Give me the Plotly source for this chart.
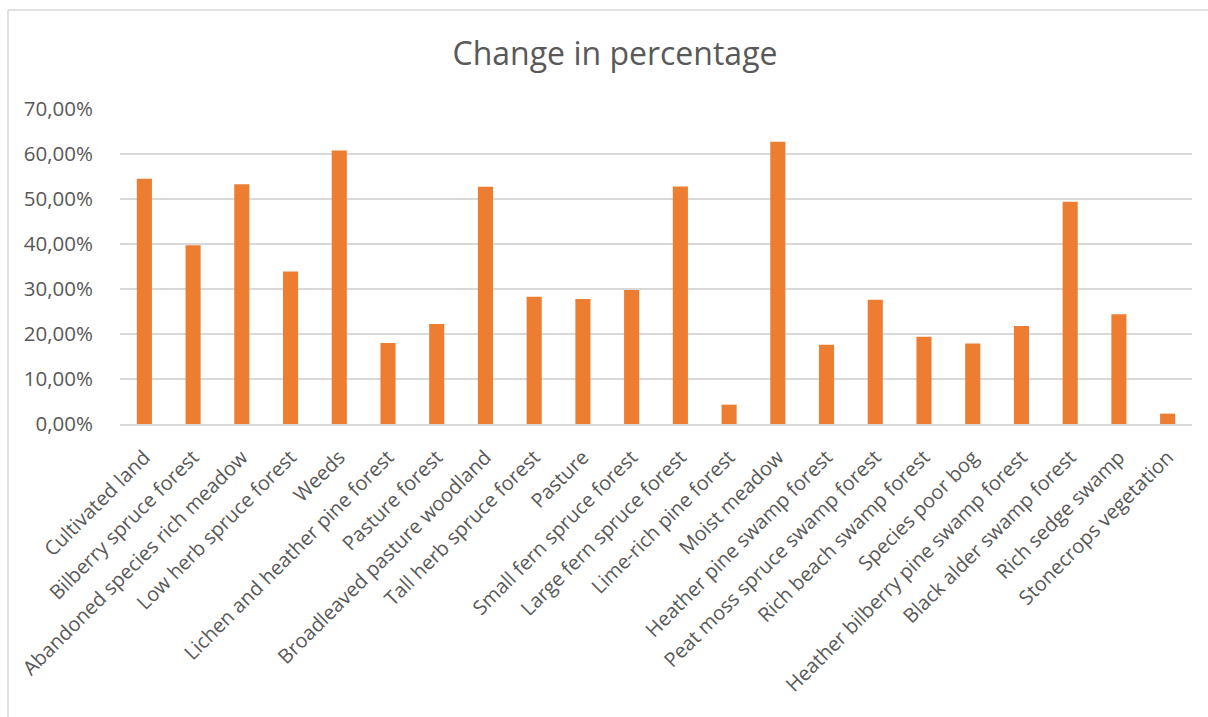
import plotly.graph_objects as go

categories = [
    "Cultivated land", "Bilberry spruce forest", "Abandoned species rich meadow",
    "Low herb spruce forest", "Weeds", "Lichen and heather pine forest",
    "Pasture forest", "Broadleaved pasture woodland", "Tall herb spruce forest",
    "Pasture", "Small fern spruce forest", "Large fern spruce forest",
    "Lime-rich pine forest", "Moist meadow", "Heather pine swamp forest",
    "Peat moss spruce swamp forest", "Rich beach swamp forest", "Species poor bog",
    "Heather bilberry pine swamp forest", "Black alder swamp forest",
    "Rich sedge swamp", "Stonecrops vegetation",
]
change_pct = [
    54.5, 39.7, 53.3, 33.9, 60.8, 18.0, 22.2, 52.7, 28.3, 27.8, 29.8,
    52.8, 4.3, 62.7, 17.6, 27.6, 19.4, 17.9, 21.8, 49.4, 24.4, 2.3,
]
values = [v / 100 for v in change_pct]

FONT = "Open Sans"
GREY = "#595959"

fig = go.Figure(go.Bar(
    x=categories, y=values,
    marker=dict(color="#ED7D31", line=dict(width=0)),
    hovertemplate="%{x}: %{y:.2%}<extra></extra>",
))

W, H = 1208, 717
L, R, T, B = 120, 16, 109, 293
pw, ph = W - L - R, H - T - B

def px_x(p):
    return (p - L) / pw

def px_y(p):
    return (H - B - p) / ph

border = dict(color="#d9d9d9", width=1.5)

fig.update_layout(
    width=W, height=H,
    margin=dict(l=L, r=R, t=T, b=B),
    paper_bgcolor="white", plot_bgcolor="white",
    separators=", ",
    bargap=0.69,
    showlegend=False,
    title=dict(
        text="Change in percentage",
        font=dict(family=FONT, size=32, color=GREY),
        x=615 / W, xanchor="center", y=1 - 54 / H, yanchor="middle", yref="container",
        xref="container",
    ),
    font=dict(family=FONT, color=GREY),
    xaxis=dict(
        tickangle=-45,
        tickfont=dict(family=FONT, size=20, color=GREY),
        showgrid=False,
        showline=True, linecolor="#d9d9d9", linewidth=1.5,
        ticks="outside", ticklen=12, tickcolor="rgba(0,0,0,0)",
        automargin=False,
    ),
    yaxis=dict(
        range=[0, 0.7], dtick=0.1, tick0=0,
        tickformat=".2%",
        tickfont=dict(family=FONT, size=20.5, color=GREY),
        showgrid=True, gridcolor="#d9d9d9", gridwidth=1.5,
        zeroline=False, showline=False,
        ticks="outside", ticklen=22, tickcolor="rgba(0,0,0,0)",
        automargin=False,
    ),
    shapes=[
        dict(type="line", xref="paper", yref="paper",
             x0=px_x(8), x1=px_x(1208), y0=px_y(10), y1=px_y(10),
             line=border, layer="below"),
        dict(type="line", xref="paper", yref="paper",
             x0=px_x(8), x1=px_x(8), y0=px_y(10), y1=px_y(717),
             line=border, layer="below"),
    ],
)

fig.write_html("out.html")
